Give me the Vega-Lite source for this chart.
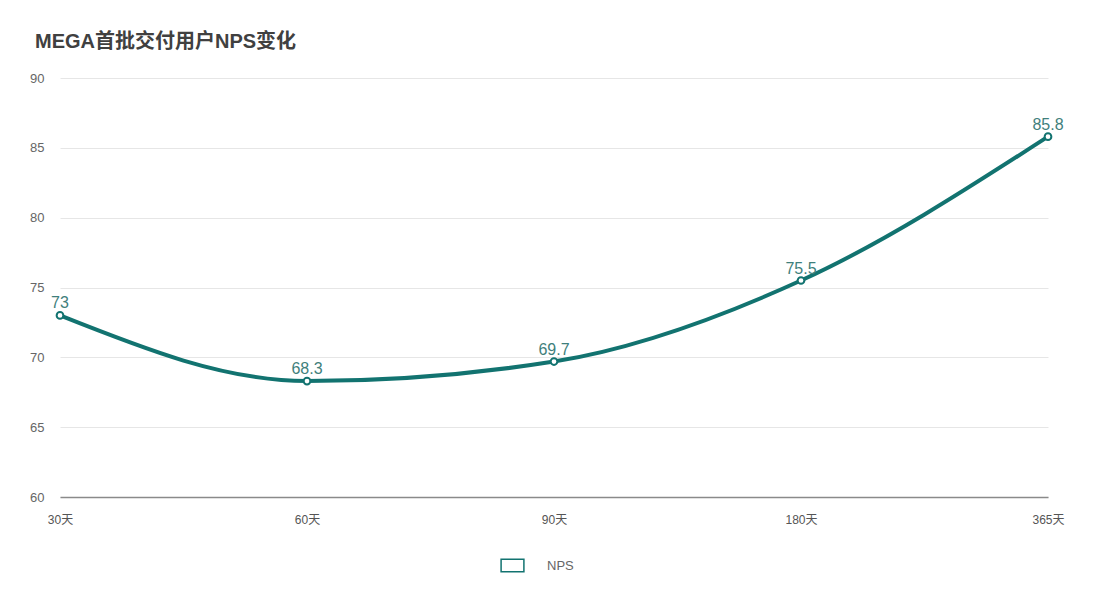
{
  "$schema": "https://vega.github.io/schema/vega-lite/v6.json",
  "autosize": {"type": "none"},
  "width": 988,
  "height": 419,
  "padding": {"left": 60, "top": 78, "right": 52, "bottom": 103},
  "background": "white",
  "config": {
    "font": "Liberation Sans, Noto Sans CJK SC",
    "view": {"stroke": null}
  },
  "title": {
    "text": "MEGA首批交付用户NPS变化",
    "anchor": "start",
    "frame": "group",
    "dx": -25,
    "offset": 20,
    "fontSize": 20,
    "fontWeight": "bold",
    "color": "#404040",
    "font": "Liberation Sans, Noto Sans CJK SC"
  },
  "data": {
    "values": [
      {"period": "30天", "series": "NPS", "nps": 73},
      {"period": "60天", "series": "NPS", "nps": 68.3},
      {"period": "90天", "series": "NPS", "nps": 69.7},
      {"period": "180天", "series": "NPS", "nps": 75.5},
      {"period": "365天", "series": "NPS", "nps": 85.8}
    ]
  },
  "encoding": {
    "x": {
      "field": "period",
      "type": "ordinal",
      "sort": null,
      "scale": {"type": "point", "padding": 0},
      "axis": {
        "title": null,
        "labelAngle": 0,
        "ticks": false,
        "domainColor": "#8a8a8a",
        "domainWidth": 1.5,
        "labelColor": "#555555",
        "labelFontSize": 12,
        "labelPadding": 17,
        "grid": false
      }
    },
    "y": {
      "field": "nps",
      "type": "quantitative",
      "scale": {"domain": [60, 90], "nice": false, "zero": false},
      "axis": {
        "title": null,
        "values": [60, 65, 70, 75, 80, 85, 90],
        "ticks": false,
        "domain": false,
        "gridColor": "#e6e6e6",
        "labelColor": "#666666",
        "labelFontSize": 13,
        "labelPadding": 16
      }
    }
  },
  "layer": [
    {
      "mark": {"type": "line", "interpolate": "monotone", "strokeWidth": 4},
      "encoding": {
        "color": {
          "field": "series",
          "type": "nominal",
          "scale": {"range": ["#127370"]},
          "legend": {
            "title": null,
            "orient": "none",
            "legendX": 440,
            "legendY": 475,
            "direction": "horizontal",
            "symbolType": "M-1,-0.55H1V0.55H-1Z",
            "symbolSize": 520,
            "symbolFillColor": "white",
            "symbolStrokeColor": "#3a8a86",
            "symbolStrokeWidth": 1.5,
            "labelColor": "#666666",
            "labelFontSize": 13,
            "labelOffset": 22
          }
        }
      }
    },
    {
      "mark": {"type": "point", "filled": true, "fill": "white", "stroke": "#127370", "strokeWidth": 2, "size": 45, "opacity": 1}
    },
    {
      "mark": {"type": "text", "dy": -12, "fontSize": 16, "color": "#3f7f7c"},
      "encoding": {"text": {"field": "nps", "type": "quantitative"}}
    }
  ]
}
